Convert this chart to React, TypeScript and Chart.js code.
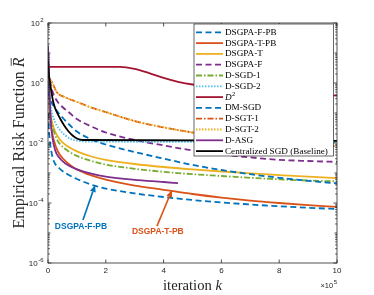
import React, { useEffect, useRef } from "react";
import { Chart, registerables } from "chart.js";

Chart.register(...registerables);

// x axis: iteration k in units of 1e5; y values stored as log10 of R̄
const xTicks = [0, 2, 4, 6, 8, 10];
const yTickExp = [-6, -4, -2, 0, 2];

const x_F_PB = [0, 0.05, 0.1, 0.2, 0.4, 0.6, 1, 1.6, 2, 3, 4, 5, 6, 7, 8, 9, 10];
const e_F_PB = [-1.0, -1.8, -2.2, -2.6, -2.85, -3.0, -3.2, -3.42, -3.52, -3.68, -3.8, -3.9, -3.98, -4.05, -4.11, -4.16, -4.2];

const x_T_PB = [0, 0.05, 0.1, 0.2, 0.35, 0.5, 0.75, 1, 1.5, 2, 3, 4, 5, 6, 7, 8, 9, 10];
const e_T_PB = [0.3, -0.8, -1.4, -1.9, -2.3, -2.5, -2.72, -2.88, -3.08, -3.22, -3.42, -3.56, -3.7, -3.82, -3.92, -4.0, -4.07, -4.13];

const x_T = [0, 0.05, 0.1, 0.2, 0.35, 0.5, 0.75, 1, 1.5, 2, 3, 4, 5, 6, 7, 8, 9, 10];
const e_T = [0.2, -0.6, -1.1, -1.5, -1.8, -1.98, -2.15, -2.28, -2.45, -2.56, -2.7, -2.8, -2.88, -2.95, -3.01, -3.07, -3.12, -3.17];

const x_F = [0, 0.1, 0.2, 0.35, 0.5, 0.75, 1, 1.5, 2, 3, 4, 5, 6, 7, 8, 9, 10];
const e_F = [0.4, -0.1, -0.4, -0.65, -0.8, -1.0, -1.2, -1.45, -1.65, -1.9, -2.08, -2.25, -2.38, -2.48, -2.56, -2.6, -2.63];

const x_SGD1 = [0, 0.05, 0.1, 0.2, 0.35, 0.5, 0.75, 1, 1.5, 2, 3, 4, 5, 6, 7, 8, 9, 10];
const e_SGD1 = [0.0, -0.8, -1.2, -1.6, -1.95, -2.12, -2.3, -2.43, -2.6, -2.72, -2.86, -2.96, -3.04, -3.1, -3.16, -3.21, -3.25, -3.28];

const x_SGD2 = [0, 0.1, 0.2, 0.4, 0.6, 0.8, 1, 1.3, 10];
const e_SGD2 = [0.2, -0.8, -1.2, -1.55, -1.75, -1.87, -1.92, -1.95, -1.97];

const x_D2 = [0, 2.5, 3, 3.5, 4, 4.5, 5, 6, 7, 8, 9, 10];
const e_D2 = [0.54, 0.54, 0.47, 0.33, 0.17, 0.04, -0.05, -0.15, -0.23, -0.3, -0.36, -0.42];

const x_DM = [0, 0.1, 0.25, 0.5, 0.75, 1, 1.5, 2, 3, 4, 5, 6, 7, 8, 9, 10];
const e_DM = [-0.3, -0.6, -0.85, -1.15, -1.4, -1.62, -1.88, -2.05, -2.3, -2.52, -2.73, -2.9, -3.04, -3.16, -3.26, -3.35];

const x_SGT = [0, 0.05, 0.13, 0.3, 0.6, 1, 1.5, 2, 3, 4, 5, 6, 7, 8, 9, 10];
const e_SGT1 = [0.28, 0.15, 0.05, -0.3, -0.48, -0.63, -0.82, -0.97, -1.27, -1.48, -1.65, -1.78, -1.88, -1.96, -2.03, -2.1];
const e_SGT2 = [0.28, 0.15, 0.05, -0.3, -0.48, -0.63, -0.82, -0.97, -1.27, -1.48, -1.65, -1.78, -1.88, -1.96, -2.03, -2.1];

const x_ASG = [0, 0.03, 0.06, 0.1, 0.15, 0.25, 0.4, 0.6, 1, 1.5, 2, 3, 4, 4.5];
const e_ASG = [1.25, 0.5, -0.5, -1.3, -1.8, -2.25, -2.5, -2.68, -2.88, -3.02, -3.12, -3.23, -3.3, -3.34];

const x_C = [0, 0.03, 0.07, 0.12, 0.17, 0.25, 0.4, 0.55, 0.7, 0.85, 1.0, 1.2, 10];
const e_C = [0.75, 0.3, 0, -0.3, -0.58, -0.85, -1.15, -1.4, -1.6, -1.75, -1.85, -1.9, -1.93];

const labels = [
  "DSGPA-F-PB", "DSGPA-T-PB", "DSGPA-T", "DSGPA-F", "D-SGD-1", "D-SGD-2",
  "D2", "DM-SGD", "D-SGT-1", "D-SGT-2", "D-ASG", "Centralized SGD (Baseline)",
];
const colors = [
  "#0072BD", "#D95319", "#EDB120", "#7E2F8E", "#77AC30", "#4DBEEE",
  "#A2142F", "#0072BD", "#D95319", "#EDB120", "#7E2F8E", "#000000",
];
const DASH = [6, 3.5];
const DASHDOT = [6, 2, 1.5, 2];
const DOT = [1.5, 1.5];
const dashes: number[][] = [DASH, [], [], DASH, DASHDOT, DOT, [], DASH, DASHDOT, DOT, [], []];
const seriesX = [x_F_PB, x_T_PB, x_T, x_F, x_SGD1, x_SGD2, x_D2, x_DM, x_SGT, x_SGT, x_ASG, x_C];
const seriesE = [e_F_PB, e_T_PB, e_T, e_F, e_SGD1, e_SGD2, e_D2, e_DM, e_SGT1, e_SGT2, e_ASG, e_C];

// annotations (data coordinates: x, log10 y)
const annTexts = ["DSGPA-F-PB", "DSGPA-T-PB"];
const annColors = ["#0072BD", "#D95319"];
const annTextPos = [[1.14, -4.8], [3.8, -4.97]];
const annTail = [[1.21, -4.57], [3.77, -4.77]];
const annTip = [[1.63, -3.4], [4.29, -3.57]];

const SERIF = "'Liberation Serif', 'Times New Roman', serif";
const SANS = "'Liberation Sans', Arial, sans-serif";

function fitFont(ctx: CanvasRenderingContext2D, parts: [string, boolean][], target: number, weight = "") {
  const base = 10;
  let w = 0;
  for (const [t, it] of parts) {
    ctx.font = `${it ? "italic " : ""}${weight}${base}px ${SERIF}`;
    w += ctx.measureText(t).width;
  }
  return (base * target) / w;
}

function drawParts(ctx: CanvasRenderingContext2D, parts: [string, boolean][], size: number, cx: number, cy: number) {
  let w = 0;
  for (const [t, it] of parts) {
    ctx.font = `${it ? "italic " : ""}${size}px ${SERIF}`;
    w += ctx.measureText(t).width;
  }
  let x = cx - w / 2;
  ctx.textAlign = "left";
  ctx.textBaseline = "middle";
  for (const [t, it] of parts) {
    ctx.font = `${it ? "italic " : ""}${size}px ${SERIF}`;
    ctx.fillText(t, x, cy);
    x += ctx.measureText(t).width;
  }
  return x;
}

function arrow(ctx: CanvasRenderingContext2D, x1: number, y1: number, x2: number, y2: number, color: string) {
  const a = Math.atan2(y2 - y1, x2 - x1);
  const hl = 7, hw = 3;
  const c = Math.cos(a), s = Math.sin(a);
  ctx.strokeStyle = color;
  ctx.fillStyle = color;
  ctx.lineWidth = 1.6;
  ctx.setLineDash([]);
  ctx.beginPath();
  ctx.moveTo(x1, y1);
  ctx.lineTo(x2 - hl * c, y2 - hl * s);
  ctx.stroke();
  ctx.beginPath();
  ctx.moveTo(x2, y2);
  ctx.lineTo(x2 - hl * c - hw * s, y2 - hl * s + hw * c);
  ctx.lineTo(x2 - hl * c + hw * s, y2 - hl * s - hw * c);
  ctx.closePath();
  ctx.fill();
}

const overlay = {
  id: "overlay",
  afterDatasetsDraw(chart: any) {
    const ctx: CanvasRenderingContext2D = chart.ctx;
    const xs = chart.scales.x;
    const ys = chart.scales.y;
    const { left: L, right: R, top: T, bottom: B } = chart.chartArea;
    ctx.save();
    ctx.setLineDash([]);

    // annotations
    for (let i = 0; i < annTexts.length; i++) {
      const tx = xs.getPixelForValue(annTail[i][0]);
      const ty = ys.getPixelForValue(Math.pow(10, annTail[i][1]));
      const hx = xs.getPixelForValue(annTip[i][0]);
      const hy = ys.getPixelForValue(Math.pow(10, annTip[i][1]));
      arrow(ctx, tx, ty, hx, hy, annColors[i]);
      ctx.font = `bold 8.5px ${SANS}`;
      ctx.fillStyle = annColors[i];
      ctx.textAlign = "center";
      ctx.textBaseline = "middle";
      ctx.fillText(
        annTexts[i],
        xs.getPixelForValue(annTextPos[i][0]),
        ys.getPixelForValue(Math.pow(10, annTextPos[i][1]))
      );
    }

    // box
    const axisColor = "#262626";
    ctx.strokeStyle = axisColor;
    ctx.lineWidth = 0.8;
    ctx.strokeRect(L, T, R - L, B - T);

    // x ticks
    ctx.beginPath();
    for (const v of xTicks) {
      const px = xs.getPixelForValue(v);
      ctx.moveTo(px, B); ctx.lineTo(px, B - 3.5);
      ctx.moveTo(px, T); ctx.lineTo(px, T + 3.5);
    }
    // y ticks
    for (let e = -6; e <= 2; e++) {
      const py = ys.getPixelForValue(Math.pow(10, e));
      const len = e % 2 === 0 ? 3.5 : 2.5;
      ctx.moveTo(L, py); ctx.lineTo(L + len, py);
      ctx.moveTo(R, py); ctx.lineTo(R - len, py);
      if (e < 2) {
        for (let k = 2; k <= 9; k++) {
          const pm = ys.getPixelForValue(k * Math.pow(10, e));
          ctx.moveTo(L, pm); ctx.lineTo(L + 1.8, pm);
          ctx.moveTo(R, pm); ctx.lineTo(R - 1.8, pm);
        }
      }
    }
    ctx.stroke();

    // tick labels
    ctx.fillStyle = axisColor;
    ctx.font = `8px ${SANS}`;
    ctx.textAlign = "center";
    ctx.textBaseline = "middle";
    for (const v of xTicks) {
      ctx.fillText(String(v), xs.getPixelForValue(v), B + 8);
    }
    for (const e of yTickExp) {
      const py = ys.getPixelForValue(Math.pow(10, e));
      ctx.textAlign = "right";
      ctx.font = `6px ${SANS}`;
      const es = e < 0 ? "-" + Math.abs(e) : String(e);
      const ew = ctx.measureText(es).width;
      ctx.fillText(es, L - 4.5, py - 3);
      ctx.font = `8px ${SANS}`;
      ctx.fillText("10", L - 4.5 - ew - 0.5, py + 1);
    }

    // x exponent label
    ctx.textAlign = "right";
    ctx.font = `6px ${SANS}`;
    const w5 = ctx.measureText("5").width;
    ctx.fillText("5", R, 282);
    ctx.font = `7.5px ${SANS}`;
    ctx.fillText("\u00d710", R - w5 - 0.5, 286);

    // axis titles
    ctx.fillStyle = "#262626";
    const xParts: [string, boolean][] = [["iteration ", false], ["k", true]];
    const xs1 = fitFont(ctx, xParts, 59);
    drawParts(ctx, xParts, xs1, (L + R) / 2, 286);

    const yParts: [string, boolean][] = [["Empirical Risk Function ", false], ["R", true]];
    const ysz = fitFont(ctx, yParts, 171);
    ctx.save();
    ctx.translate(20, (T + B) / 2);
    ctx.rotate(-Math.PI / 2);
    const endX = drawParts(ctx, yParts, ysz, 0, 0);
    ctx.font = `italic ${ysz}px ${SERIF}`;
    const rw = ctx.measureText("R").width;
    ctx.lineWidth = 0.8;
    ctx.strokeStyle = "#262626";
    ctx.beginPath();
    ctx.moveTo(endX - rw + 1.5, -ysz * 0.55);
    ctx.lineTo(endX - 0.5, -ysz * 0.55);
    ctx.stroke();
    ctx.restore();

    // legend
    const lx0 = 194, ly0 = 24, lx1 = 333.5, ly1 = 156;
    ctx.fillStyle = "#ffffff";
    ctx.fillRect(lx0, ly0, lx1 - lx0, ly1 - ly0);
    ctx.strokeStyle = "#262626";
    ctx.lineWidth = 0.7;
    ctx.strokeRect(lx0, ly0, lx1 - lx0, ly1 - ly0);
    const lsize = fitFont(ctx, [["Centralized SGD (Baseline)", false]], 103);
    for (let i = 0; i < labels.length; i++) {
      const y = 32.3 + i * 10.8;
      ctx.strokeStyle = colors[i];
      ctx.lineWidth = 1.8;
      ctx.setLineDash(dashes[i]);
      ctx.beginPath();
      ctx.moveTo(196, y);
      ctx.lineTo(223, y);
      ctx.stroke();
      ctx.setLineDash([]);
      ctx.fillStyle = "#000";
      ctx.textAlign = "left";
      ctx.textBaseline = "middle";
      if (labels[i] === "D2") {
        ctx.font = `italic ${lsize}px ${SERIF}`;
        ctx.fillText("D", 225, y);
        const dw = ctx.measureText("D").width;
        ctx.font = `${lsize * 0.7}px ${SERIF}`;
        ctx.fillText("2", 225 + dw + 0.5, y - 3);
      } else {
        ctx.font = `${lsize}px ${SERIF}`;
        ctx.fillText(labels[i], 225, y);
      }
    }
    ctx.restore();
  },
};

export default function App() {
  const ref = useRef<HTMLCanvasElement | null>(null);
  useEffect(() => {
    document.body.style.margin = "0";
    const canvas = ref.current;
    if (!canvas) return;
    const datasets = labels.map((lab, i) => ({
      label: lab,
      data: seriesX[i].map((x, j) => ({ x, y: Math.pow(10, seriesE[i][j]) })),
      borderColor: colors[i],
      backgroundColor: colors[i],
      borderDash: dashes[i],
      borderWidth: 1.8,
      pointRadius: 0,
      fill: false,
      cubicInterpolationMode: "monotone" as const,
      order: labels.length - i,
    }));
    const chart = new Chart(canvas, {
      type: "line",
      data: { datasets },
      options: {
        responsive: false,
        animation: false,
        devicePixelRatio: 1,
        layout: { padding: { left: 48, right: 37, top: 23, bottom: 32 } },
        scales: {
          x: { type: "linear", min: 0, max: 10, display: false },
          y: { type: "logarithmic", min: 1e-6, max: 1e2, display: false },
        },
        plugins: { legend: { display: false }, tooltip: { enabled: false } },
      },
      plugins: [overlay],
    });
    return () => chart.destroy();
  }, []);
  return <canvas ref={ref} width={374} height={295} style={{ display: "block", width: 374, height: 295 }} />;
}
